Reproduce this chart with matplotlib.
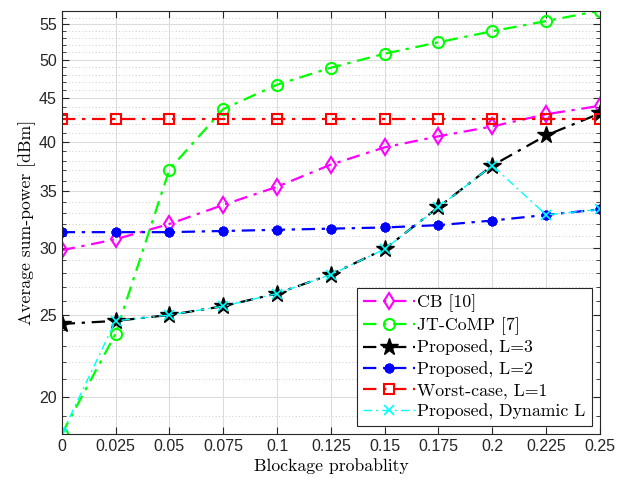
import matplotlib
matplotlib.use("Agg")
import matplotlib.pyplot as plt
from matplotlib.ticker import FixedLocator, NullFormatter

prob = [0, 0.025, 0.05, 0.075, 0.1, 0.125, 0.15, 0.175, 0.2, 0.225, 0.25]
prob_labels = ["0", "0.025", "0.05", "0.075", "0.1", "0.125", "0.15", "0.175", "0.2", "0.225", "0.25"]

cb = [29.8, 30.7, 32.0, 33.7, 35.4, 37.6, 39.4, 40.6, 41.7, 43.1, 44.1]
jt_comp = [18.1, 23.75, 37.1, 43.7, 46.7, 48.9, 50.8, 52.4, 54.0, 55.5, 57.1]
prop_l3 = [24.4, 24.6, 25.0, 25.6, 26.5, 27.9, 29.9, 33.5, 37.5, 40.7, 43.2]
prop_l2 = [31.3, 31.3, 31.3, 31.4, 31.5, 31.6, 31.7, 31.9, 32.3, 32.8, 33.3]
worst_l1 = [42.6, 42.6, 42.6, 42.6, 42.6, 42.6, 42.6, 42.6, 42.6, 42.6, 42.6]
prop_dyn = [18.1, 24.6, 25.0, 25.6, 26.5, 27.9, 29.9, 33.5, 37.5, 32.8, 33.3]

y_ticks = [20, 25, 30, 35, 40, 45, 50, 55]

serif = "cmr10"
dashdot = (0, (6, 3, 1.5, 3))

fig = plt.figure(figsize=(6.24, 4.82), dpi=100)
ax = fig.add_axes([0.0989, 0.0996, 0.8626, 0.8784])

ax.plot(prob, cb, ls=dashdot, color=(1, 0, 1), lw=1.6, marker="d", ms=8.5,
        mfc="none", mew=1.5, label="CB [10]")
ax.plot(prob, jt_comp, ls=dashdot, color=(0, 1, 0), lw=1.6, marker="o", ms=8,
        mfc="none", mew=1.5, label="JT-CoMP [7]")
ax.plot(prob, prop_l3, ls=dashdot, color="k", lw=1.6, marker="*", ms=13,
        mew=1.0, label="Proposed, L=3")
ax.plot(prob, prop_l2, ls=dashdot, color=(0, 0, 1), lw=1.6, marker=(8, 2, 0), ms=7,
        mew=2.2, label="Proposed, L=2")
ax.plot(prob, worst_l1, ls=dashdot, color=(1, 0, 0), lw=1.6, marker="s", ms=7.5,
        mfc="none", mew=1.5, label="Worst-case, L=1")
ax.plot(prob, prop_dyn, ls=dashdot, color=(0, 1, 1), lw=1.0, marker="x", ms=6.5,
        mew=1.2, label="Proposed, Dynamic L")

ax.set_yscale("log")
ax.set_xlim(0, 0.25)
ax.set_ylim(18.1, 57.1)
ax.set_xticks(prob)
ax.set_xticklabels(prob_labels, family="Liberation Sans")
ax.yaxis.set_major_locator(FixedLocator(y_ticks))
ax.yaxis.set_minor_locator(FixedLocator(range(18, 58)))
ax.set_yticklabels([str(t) for t in y_ticks], family="Liberation Sans")
ax.yaxis.set_minor_formatter(NullFormatter())

ax.tick_params(which="both", direction="in", top=True, right=True,
               labelsize=11.5, colors="#262626")
ax.tick_params(which="major", length=5)
ax.tick_params(which="minor", length=3)
ax.grid(True, which="major", color="#dcdcdc", lw=0.8)
ax.grid(True, which="minor", axis="y", color="#bdbdbd", lw=0.6, ls=(0, (1, 3)))
ax.set_axisbelow(True)
for s in ax.spines.values():
    s.set_color("#262626")
    s.set_linewidth(0.8)

ax.set_xlabel("Blockage probablity", family=serif, fontsize=12.7, labelpad=3)
ax.set_ylabel("Average sum-power [dBm]", family=serif, fontsize=12.7, labelpad=2)

leg = ax.legend(loc="lower right", prop={"family": serif, "size": 12.8},
                fancybox=False, edgecolor="#262626", framealpha=1,
                borderaxespad=0.45, handlelength=2.9, labelspacing=0.28,
                borderpad=0.35, handletextpad=0.15)
leg.get_frame().set_linewidth(0.8)

fig.savefig("out.png", dpi=100)
